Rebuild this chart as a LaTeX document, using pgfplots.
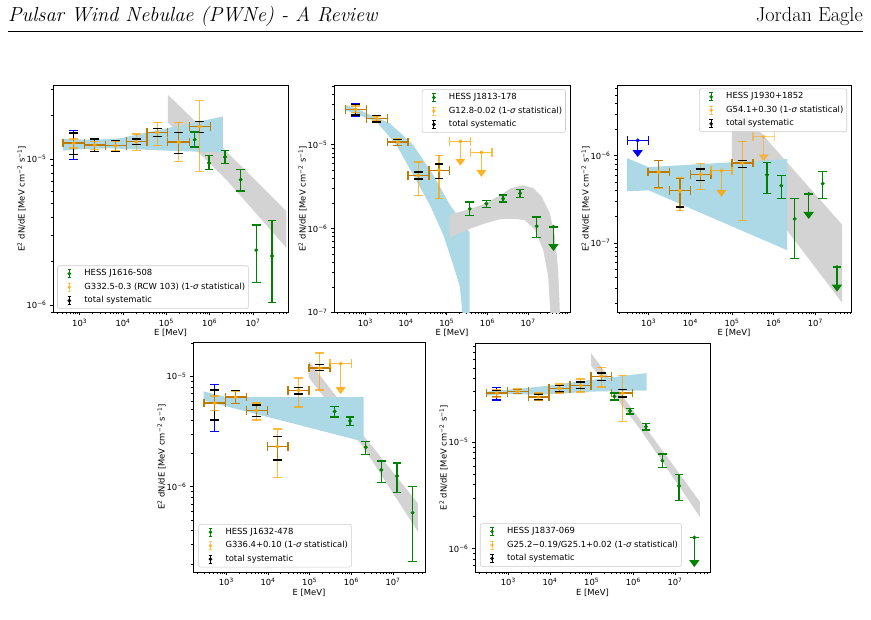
\documentclass[border=0pt]{standalone}
\usepackage{fontspec}
\usepackage{pgfplots}
\pgfplotsset{compat=1.18}
\usetikzlibrary{arrows.meta}
\newfontfamily\dv{DejaVu Sans}
\newcommand\mpl{\dv\fontsize{8.4pt}{10pt}\selectfont}
\definecolor{fblue}{HTML}{ADD8E6}
\definecolor{hgray}{HTML}{D3D3D3}
\definecolor{mplorange}{HTML}{FFA500}
\definecolor{mplgreen}{HTML}{008000}
\definecolor{legedge}{HTML}{CCCCCC}
\pgfplotsset{
  eb/.style={line width=1.4pt, mark size=4.3pt, forget plot},
  sys/.style={eb, black},
  stat/.style={eb, mplorange, opacity=0.75},
  fermi/.style={eb, blue},
  hess/.style={eb, mplgreen},
  band/.style={draw=none, forget plot},
  errleg/.style={legend image code/.code={
     \path[draw=none, fill=none] (0pt,0pt) -- (16.8pt,0pt);
     \draw[line width=1pt] (8.4pt,-4pt) -- (8.4pt,4pt);
     \draw[line width=1pt] (6.6pt,-4pt) -- (10.2pt,-4pt);
     \draw[line width=1pt] (6.6pt,4pt) -- (10.2pt,4pt);
     \fill (8.4pt,0pt) circle (1.5pt);
  }},
}
\pgfplotsset{every axis/.append style={
    xmode=log, ymode=log, scale only axis, anchor=south west,
    tick align=outside, tick pos=left,
    major tick length=3pt, minor tick length=1.8pt,
    every tick/.style={black, line width=0.6pt},
    axis line style={line width=0.8pt},
    xtick={1e3,1e4,1e5,1e6,1e7},
    xticklabels={10\textsuperscript{3},10\textsuperscript{4},10\textsuperscript{5},10\textsuperscript{6},10\textsuperscript{7}},
    minor xtick={200,300,400,500,600,700,800,900,2e3,3e3,4e3,5e3,6e3,7e3,8e3,9e3,2e4,3e4,4e4,5e4,6e4,7e4,8e4,9e4,2e5,3e5,4e5,5e5,6e5,7e5,8e5,9e5,2e6,3e6,4e6,5e6,6e6,7e6,8e6,9e6,2e7,3e7,4e7,5e7,6e7,7e7,8e7,9e7},
    minor ytick={2e-8,3e-8,4e-8,5e-8,6e-8,7e-8,8e-8,9e-8,2e-7,3e-7,4e-7,5e-7,6e-7,7e-7,8e-7,9e-7,2e-6,3e-6,4e-6,5e-6,6e-6,7e-6,8e-6,9e-6,2e-5,3e-5,4e-5,5e-5,6e-5,7e-5,8e-5,9e-5},
    tick label style={font=\mpl},
    label style={font=\mpl},
    xlabel={E [MeV]},
    ylabel={E\textsuperscript{2} dN/dE [MeV cm\textsuperscript{−2} s\textsuperscript{−1}]},
    xlabel shift=-4pt, ylabel shift=-6pt,
    legend cell align=left,
    legend style={font=\mpl, draw=legedge, fill=white, fill opacity=0.8, text opacity=1,
      rounded corners=2pt, inner sep=3.4pt, row sep=4.5pt, column sep=6.7pt, line width=0.6pt,
      nodes={inner sep=0pt, text height=6.3pt, text depth=2.2pt}},
}}
% orange point with statistical and systematic errors
\newcommand{\PT}[8]{%
  \addplot[sys, mark=|] coordinates {(#3,#2) (#4,#2)};
  \addplot[sys, mark=-] coordinates {(#1,#7) (#1,#8)};
  \addplot[stat, mark=|] coordinates {(#3,#2) (#4,#2)};
  \addplot[stat, mark=-] coordinates {(#1,#5) (#1,#6)};
  \addplot[mplorange, only marks, mark=*, mark size=1.8pt, forget plot] coordinates {(#1,#2)};
}
\newcommand{\OUL}[6][0.75]{%
  \addplot[eb, mplorange, opacity=#1, mark=|] coordinates {(#4,#3) (#5,#3)};
  \addplot[eb, mplorange, opacity=#1, -{Triangle[width=10pt,length=7pt]}] coordinates {(#2,#3) (#2,#6)};
  \addplot[mplorange, opacity=#1, only marks, mark=*, mark size=1.8pt, forget plot] coordinates {(#2,#3)};
}
\newcommand{\BLUEY}[3]{\addplot[fermi, mark=-] coordinates {(#1,#2) (#1,#3)};}
\newcommand{\BUL}[5]{%
  \addplot[fermi, mark=|] coordinates {(#3,#2) (#4,#2)};
  \addplot[fermi, -{Triangle[width=10pt,length=7pt]}] coordinates {(#1,#2) (#1,#5)};
  \addplot[blue, only marks, mark=*, mark size=1.8pt, forget plot] coordinates {(#1,#2)};
}
\newcommand{\HP}[4]{%
  \addplot[hess, mark=-] coordinates {(#1,#3) (#1,#4)};
  \addplot[mplgreen, only marks, mark=*, mark size=1.8pt, forget plot] coordinates {(#1,#2)};
}
\newcommand{\HUL}[3]{%
  \addplot[hess, -{Triangle[width=10pt,length=7pt]}] coordinates {(#1,#2) (#1,#3)};
  \addplot[hess, only marks, mark=-] coordinates {(#1,#2)};
  \addplot[mplgreen, only marks, mark=*, mark size=1.8pt, forget plot] coordinates {(#1,#2)};
}
\newcommand{\LEG}[2]{%
  \addlegendimage{errleg, mplgreen}\addlegendentry{#1}
  \addlegendimage{errleg, mplorange, opacity=0.6}\addlegendentry{#2}
  \addlegendimage{errleg, black}\addlegendentry{total systematic}
}
\newcommand{\sig}{1-{\itshape σ} statistical}
\begin{document}
\begin{tikzpicture}
\path[use as bounding box] (0pt,0pt) rectangle (871pt,620pt);
\node[anchor=base west, inner sep=0pt] at (8pt,598pt) {\fontsize{20.3}{24}\selectfont\itshape Pulsar Wind Nebulae (PWNe) - A Review};
\node[anchor=base east, inner sep=0pt] at (863pt,598pt) {\fontsize{20.3}{24}\selectfont Jordan Eagle};
\draw[line width=0.8pt] (8pt,589pt) -- (863pt,589pt);

% ---------------- Panel 1 ----------------
\begin{axis}[at={(53pt,307.5pt)}, width=235pt, height=227.5pt,
  xmin=243, xmax=6.42e7, ymin=8.91e-7, ymax=3.21e-5,
  ytick={1e-6,1e-5}, yticklabels={10\textsuperscript{−6},10\textsuperscript{−5}},
  legend style={at={(0.018,0.016)}, anchor=south west}]
\addplot[band, fill=hgray] coordinates {(1.09e5,2.75e-5) (2.43e6,1.127e-5) (5.87e7,4.40e-6) (5.87e7,2.47e-6) (2.43e6,7.22e-6) (1.09e5,1.778e-5)} -- cycle;
\addplot[band, fill=fblue] coordinates {(412,1.369e-5) (2032,1.355e-5) (8375,1.384e-5) (70150,1.585e-5) (2.03e6,1.954e-5) (2.03e6,1.110e-5) (170200,1.134e-5) (28970,1.159e-5) (4920,1.183e-5) (1194,1.170e-5) (412,1.140e-5)} -- cycle;
\BLUEY{728}{0.99e-5}{1.567e-5}
\PT{728}{1.285e-5}{412}{1304}{1.189e-5}{1.368e-5}{1.07e-5}{1.503e-5}
\PT{2218}{1.246e-5}{1304}{3981}{1.16e-5}{1.318e-5}{1.127e-5}{1.368e-5}
\PT{6776}{1.233e-5}{3981}{11940}{1.14e-5}{1.318e-5}{1.127e-5}{1.34e-5}
\PT{20300}{1.312e-5}{11940}{35800}{1.146e-5}{1.48e-5}{1.253e-5}{1.375e-5}
\PT{62000}{1.52e-5}{35800}{107000}{1.24e-5}{1.786e-5}{1.43e-5}{1.61e-5}
\PT{192700}{1.306e-5}{107000}{345000}{0.964e-5}{1.78e-5}{1.094e-5}{1.52e-5}
\PT{587000}{1.67e-5}{345000}{1.054e6}{0.824e-5}{2.51e-5}{1.52e-5}{1.81e-5}
\HP{451000}{1.355e-5}{1.207e-5}{1.528e-5}
\HP{966000}{9.39e-6}{8.46e-6}{1.054e-5}
\HP{2.26e6}{1.032e-5}{9.29e-6}{1.146e-5}
\HP{5.19e6}{7.22e-6}{6.03e-6}{8.46e-6}
\HP{1.19e7}{2.38e-6}{1.43e-6}{3.53e-6}
\HP{2.74e7}{2.17e-6}{1.04e-6}{3.80e-6}
\LEG{HESS J1616-508}{G332.5-0.3 (RCW 103) (\sig)}
\end{axis}

% ---------------- Panel 2 ----------------
\begin{axis}[at={(334pt,307.5pt)}, width=236pt, height=227.5pt,
  xmin=170, xmax=1.07e8, ymin=1e-7, ymax=5.16e-5,
  ytick={1e-7,1e-6,1e-5}, yticklabels={10\textsuperscript{−7},10\textsuperscript{−6},10\textsuperscript{−5}},
  legend style={at={(0.982,0.981)}, anchor=north east}]
\addplot[band, fill=fblue] coordinates {(310,2.985e-5) (453,2.85e-5) (3963,1.81e-5) (14860,1.0e-5) (46100,4.40e-6) (118600,1.936e-6) (304800,1.023e-6) (368100,8.91e-7) (368100,8.34e-8) (252400,8.34e-8) (208900,2.075e-7) (130300,4.31e-7) (81300,8.53e-7) (38200,1.936e-6) (14860,4.40e-6) (5780,1.0e-5) (1862,1.892e-5) (341,2.56e-5) (310,2.56e-5)} -- cycle;
\addplot[band, fill=hgray] coordinates {(1.186e5,1.472e-6) (3.35e5,1.69e-6) (8.59e5,1.972e-6) (2.208e6,2.547e-6) (3.89e6,3.055e-6) (7.53e6,3.29e-6) (1.327e7,3.055e-6) (2.128e7,2.432e-6) (3.41e7,1.542e-6) (4.53e7,8.15e-7) (5.47e7,3.27e-7) (6.12e7,8.34e-8) (3.61e7,8.34e-8) (3.10e7,2.73e-7) (2.339e7,5.65e-7) (1.459e7,9.77e-7) (8.28e6,1.262e-6) (4.70e6,1.309e-6) (2.208e6,1.309e-6) (8.59e5,1.151e-6) (3.35e5,9.77e-7) (1.186e5,7.78e-7)} -- cycle;
\BLUEY{578}{2.21e-5}{3.13e-5}
\PT{578}{2.65e-5}{322}{1059}{2.42e-5}{2.9e-5}{2.27e-5}{3.04e-5}
\PT{1900}{2.06e-5}{1059}{3475}{1.95e-5}{2.17e-5}{1.86e-5}{2.25e-5}
\PT{6240}{1.076e-5}{3475}{11200}{9.73e-6}{1.178e-5}{9.82e-6}{1.15e-5}
\PT{20100}{4.32e-6}{11200}{36800}{2.48e-6}{6.22e-6}{3.91e-6}{4.73e-6}
\PT{64700}{4.96e-6}{36800}{118600}{2.30e-6}{7.47e-6}{3.94e-6}{5.89e-6}
\OUL{216900}{1.096e-5}{118600}{389000}{5.62e-6}
\OUL{711000}{8.1e-6}{389000}{1.30e6}{4.13e-6}
\HP{368000}{1.72e-6}{1.43e-6}{2.07e-6}
\HP{944000}{1.99e-6}{1.78e-6}{2.18e-6}
\HP{2.43e6}{2.28e-6}{2.07e-6}{2.52e-6}
\HP{6.35e6}{2.64e-6}{2.34e-6}{2.94e-6}
\HP{1.63e7}{1.07e-6}{7.85e-7}{1.38e-6}
\HUL{4.20e7}{1.05e-6}{5.41e-7}
\LEG{HESS J1813-178}{G12.8-0.02 (\sig)}
\end{axis}

% ---------------- Panel 3 ----------------
\begin{axis}[at={(617pt,307.5pt)}, width=234pt, height=227.5pt,
  xmin=174, xmax=7.18e7, ymin=1.585e-8, ymax=6.5e-6,
  ytick={1e-7,1e-6}, yticklabels={10\textsuperscript{−7},10\textsuperscript{−6}},
  legend style={at={(0.983,0.984)}, anchor=north east}]
\addplot[band, fill=hgray] coordinates {(1e5,4.38e-6) (4.37e7,1.62e-7) (4.37e7,2.06e-8) (1e5,9.4e-7)} -- cycle;
\addplot[band, fill=fblue] coordinates {(302,9.40e-7) (1000,7.41e-7) (2.09e6,9.16e-7) (2.09e6,8.24e-8) (1000,4.01e-7) (302,3.91e-7)} -- cycle;
\BUL{545}{1.5e-6}{313}{1000}{9.66e-7}
\PT{1738}{6.50e-7}{964}{3190}{4.27e-7}{8.85e-7}{4.3e-7}{8.8e-7}
\PT{5650}{3.97e-7}{3190}{10000}{2.37e-7}{5.55e-7}{2.58e-7}{5.46e-7}
\PT{17700}{6.11e-7}{10000}{31600}{4.08e-7}{8.10e-7}{5.22e-7}{7.03e-7}
\OUL{56000}{6.73e-7}{31600}{1e5}{3.37e-7}
\PT{177000}{8.24e-7}{1e5}{319000}{1.82e-7}{1.459e-6}{7.35e-7}{8.77e-7}
\OUL[0.5]{575000}{1.66e-6}{319000}{1.038e6}{8.61e-7}
\HP{692000}{6.05e-7}{3.67e-7}{8.39e-7}
\HP{1.528e6}{4.53e-7}{3.22e-7}{5.90e-7}
\HP{3.19e6}{1.88e-7}{6.56e-8}{3.22e-7}
\HUL{6.92e6}{3.64e-7}{1.88e-7}
\HP{1.50e7}{4.78e-7}{3.22e-7}{6.62e-7}
\HUL{3.31e7}{5.26e-8}{2.75e-8}
\LEG{HESS J1930+1852}{G54.1+0.30 (\sig)}
\end{axis}

% ---------------- Panel 4 ----------------
\begin{axis}[at={(193pt,48pt)}, width=232pt, height=230pt,
  xmin=158.5, xmax=5.86e7, ymin=1.687e-7, ymax=2.05e-5,
  ytick={1e-6,1e-5}, yticklabels={10\textsuperscript{−6},10\textsuperscript{−5}},
  legend style={at={(0.023,0.02)}, anchor=south west}]
\addplot[band, fill=hgray] coordinates {(9.46e4,1.387e-5) (4.37e5,6.58e-6) (1.905e6,2.95e-6) (3.98e7,7.05e-7) (3.98e7,3.90e-7) (1.905e6,2.31e-6) (4.37e5,4.65e-6) (9.46e4,9.8e-6)} -- cycle;
\addplot[band, fill=fblue] coordinates {(286,7.31e-6) (1000,6.49e-6) (1.977e6,6.49e-6) (1.977e6,2.56e-6) (286,6.05e-6)} -- cycle;
\BLUEY{525}{3.16e-6}{8.40e-6}
\PT{525}{5.73e-6}{291}{964}{4.91e-6}{6.67e-6}{4.04e-6}{7.56e-6}
\PT{1675}{6.49e-6}{964}{3020}{5.7e-6}{7.3e-6}{5.65e-6}{7.41e-6}
\PT{5250}{4.91e-6}{3020}{9640}{4.04e-6}{5.73e-6}{4.33e-6}{5.52e-6}
\PT{16750}{2.31e-6}{9640}{30200}{1.21e-6}{3.34e-6}{1.75e-6}{2.85e-6}
\PT{54500}{7.46e-6}{30200}{96400}{5.26e-6}{9.66e-6}{6.91e-6}{7.94e-6}
\PT{173800}{1.19e-5}{96400}{307600}{7.56e-6}{1.63e-5}{1.127e-5}{1.276e-5}
\OUL{554000}{1.303e-5}{307600}{1e6}{6.9e-6}
\HP{398000}{4.81e-6}{4.27e-6}{5.35e-6}
\HP{929000}{3.95e-6}{3.61e-6}{4.27e-6}
\HP{2.21e6}{2.28e-6}{1.97e-6}{2.56e-6}
\HP{5.25e6}{1.42e-6}{1.09e-6}{1.71e-6}
\HP{1.247e7}{1.25e-6}{8.87e-7}{1.64e-6}
\HP{2.96e7}{5.81e-7}{2.11e-7}{1e-6}
\LEG{HESS J1632-478}{G336.4+0.10 (\sig)}
\end{axis}

% ---------------- Panel 5 ----------------
\begin{axis}[at={(475pt,48pt)}, width=235pt, height=229pt,
  xmin=158.5, xmax=6.92e7, ymin=6.03e-7, ymax=8.59e-5,
  ytick={1e-6,1e-5}, yticklabels={10\textsuperscript{−6},10\textsuperscript{−5}},
  legend style={at={(0.021,0.023)}, anchor=south west}]
\addplot[band, fill=hgray] coordinates {(9.64e4,6.92e-5) (1.445e6,1.626e-5) (3.98e7,2.75e-6) (3.98e7,1.99e-6) (1.445e6,1.336e-5) (9.64e4,5.28e-5)} -- cycle;
\addplot[band, fill=fblue] coordinates {(302,3.0e-5) (946,3.12e-5) (6310,3.35e-5) (1e5,3.87e-5) (2.09e6,4.48e-5) (2.09e6,3.07e-5) (1e5,3.00e-5) (6310,2.80e-5) (946,2.84e-5) (302,2.75e-5)} -- cycle;
\BLUEY{525}{2.51e-5}{3.28e-5}
\PT{525}{2.897e-5}{302}{946}{2.66e-5}{3.12e-5}{2.69e-5}{3.07e-5}
\PT{1675}{3.005e-5}{946}{3020}{2.86e-5}{3.16e-5}{2.88e-5}{3.14e-5}
\PT{5250}{2.66e-5}{3020}{9460}{2.46e-5}{2.9e-5}{2.5e-5}{2.85e-5}
\PT{16750}{3.21e-5}{9460}{30200}{2.90e-5}{3.52e-5}{2.98e-5}{3.42e-5}
\PT{54500}{3.43e-5}{30200}{96400}{2.97e-5}{3.93e-5}{3.2e-5}{3.68e-5}
\PT{173800}{4.17e-5}{96400}{302000}{3.30e-5}{5.06e-5}{3.82e-5}{4.48e-5}
\PT{554000}{2.90e-5}{302000}{964000}{1.57e-5}{4.23e-5}{2.66e-5}{3.12e-5}
\HP{350000}{2.70e-5}{2.51e-5}{2.90e-5}
\HP{832000}{1.977e-5}{1.85e-5}{2.09e-5}
\HP{2.01e6}{1.406e-5}{1.306e-5}{1.51e-5}
\HP{4.97e6}{6.71e-6}{5.77e-6}{7.76e-6}
\HP{1.247e7}{3.90e-6}{2.82e-6}{4.99e-6}
\HUL{2.91e7}{1.271e-6}{6.71e-7}
\LEG{HESS J1837-069}{G25.2−0.19/G25.1+0.02 (\sig)}
\end{axis}
\end{tikzpicture}
\end{document}
